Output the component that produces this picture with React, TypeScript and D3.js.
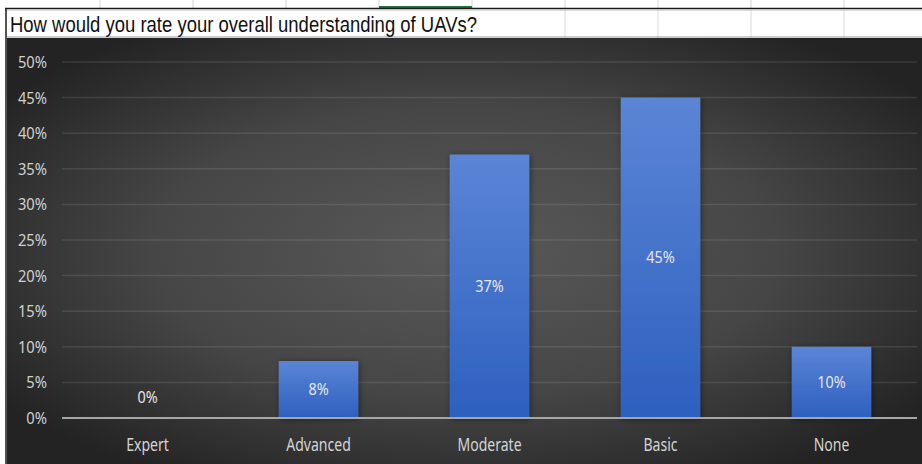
import React from "react";
import * as d3 from "d3";

const title = "How would you rate your overall understanding of UAVs?";
const categories = ["Expert", "Advanced", "Moderate", "Basic", "None"];
const values = [0, 0.08, 0.37, 0.45, 0.1];
const yTicks = [0, 0.05, 0.1, 0.15, 0.2, 0.25, 0.3, 0.35, 0.4, 0.45, 0.5];

const W = 922;
const H = 464;
const chartTop = 38;
const chartLeft = 7;
const plot = { left: 62, right: 917, top: 62, bottom: 418 };
const colLines = [100, 193, 286, 379, 472, 565, 658, 751, 844];

export default function App() {
  const x = d3
    .scaleBand<string>()
    .domain(categories)
    .range([plot.left, plot.right])
    .paddingInner(0.535)
    .paddingOuter(0.2675);
  const y = d3.scaleLinear().domain([0, 0.5]).range([plot.bottom, plot.top]);
  const fmt = d3.format(".0%");
  const labelFont = "'Noto Sans', 'Open Sans', sans-serif";

  return (
    <svg
      width={W}
      height={H}
      style={{ position: "absolute", left: 0, top: 0, display: "block" }}
    >
      <defs>
        <radialGradient id="bg" cx="0.5" cy="0.5" r="0.62">
          <stop offset="0" stopColor="#595959" />
          <stop offset="0.55" stopColor="#464646" />
          <stop offset="1" stopColor="#232323" />
        </radialGradient>
        <linearGradient id="bar" x1="0" y1="0" x2="0" y2="1">
          <stop offset="0" stopColor="#5b85d6" />
          <stop offset="1" stopColor="#2d60bf" />
        </linearGradient>
        <filter id="shadow" x="-30%" y="-30%" width="160%" height="160%">
          <feDropShadow dx="1" dy="1" stdDeviation="3" floodColor="#000" floodOpacity="0.45" />
        </filter>
      </defs>

      {/* spreadsheet area */}
      <rect x={0} y={0} width={W} height={chartTop} fill="#ffffff" />
      {colLines.map((cx) => (
        <line key={"t" + cx} x1={cx} x2={cx} y1={0} y2={8} stroke="#d4d4d4" strokeWidth={1} />
      ))}
      {colLines
        .filter((cx) => cx > 500)
        .map((cx) => (
          <line key={"r" + cx} x1={cx} x2={cx} y1={10} y2={chartTop} stroke="#dadada" strokeWidth={1} />
        ))}
      <rect x={379} y={6} width={93} height={2.5} fill="#217346" />
      <line x1={5} x2={W} y1={8.5} y2={8.5} stroke="#1a1a1a" strokeWidth={1.5} />
      <line x1={5} x2={W} y1={10} y2={10} stroke="#bdbdbd" strokeWidth={1} />
      <line x1={6} x2={6} y1={8} y2={H} stroke="#1a1a1a" strokeWidth={1.5} />
      <line x1={7} x2={W} y1={37} y2={37} stroke="#9a9a9a" strokeWidth={1} />
      <text
        x={10}
        y={31.5}
        fontFamily="'Liberation Sans', Arial, sans-serif"
        fontSize={22.5}
        fill="#111"
        textLength={467}
        lengthAdjust="spacingAndGlyphs"
      >
        {title}
      </text>

      {/* chart area */}
      <rect x={chartLeft} y={chartTop} width={W - chartLeft} height={H - chartTop} fill="url(#bg)" />

      {yTicks.map((t) => (
        <g key={t}>
          {t > 0 && (
            <line
              x1={plot.left}
              x2={plot.right}
              y1={y(t)}
              y2={y(t)}
              stroke="#ffffff"
              strokeOpacity={0.1}
              strokeWidth={1.5}
            />
          )}
          <text
            transform={`translate(47,${y(t) + 6}) scale(0.92,1)`}
            textAnchor="end"
            fontFamily={labelFont}
            fontSize={16}
            fill="#d0d0d0"
          >
            {fmt(t)}
          </text>
        </g>
      ))}

      {categories.map((c, i) => {
        const v = values[i];
        const x0 = x(c) as number;
        const bw = x.bandwidth();
        const top = y(v);
        const labelCy = Math.min((top + y(0)) / 2, y(0) - 21);
        return (
          <g key={c}>
            {v > 0 && (
              <rect x={x0} y={top} width={bw} height={y(0) - top} fill="url(#bar)" filter="url(#shadow)" />
            )}
            <text
              transform={`translate(${x0 + bw / 2},${labelCy + 5.5}) scale(0.9,1)`}
              textAnchor="middle"
              fontFamily={labelFont}
              fontSize={16}
              fill="#e6e6e6"
            >
              {fmt(v)}
            </text>
            <text
              transform={`translate(${x0 + bw / 2},${451}) scale(0.78,1)`}
              textAnchor="middle"
              fontFamily={labelFont}
              fontSize={18}
              fill="#d4d4d4"
            >
              {c}
            </text>
          </g>
        );
      })}

      <line
        x1={plot.left}
        x2={plot.right}
        y1={y(0)}
        y2={y(0)}
        stroke="#a6a6a6"
        strokeWidth={2}
      />
    </svg>
  );
}
